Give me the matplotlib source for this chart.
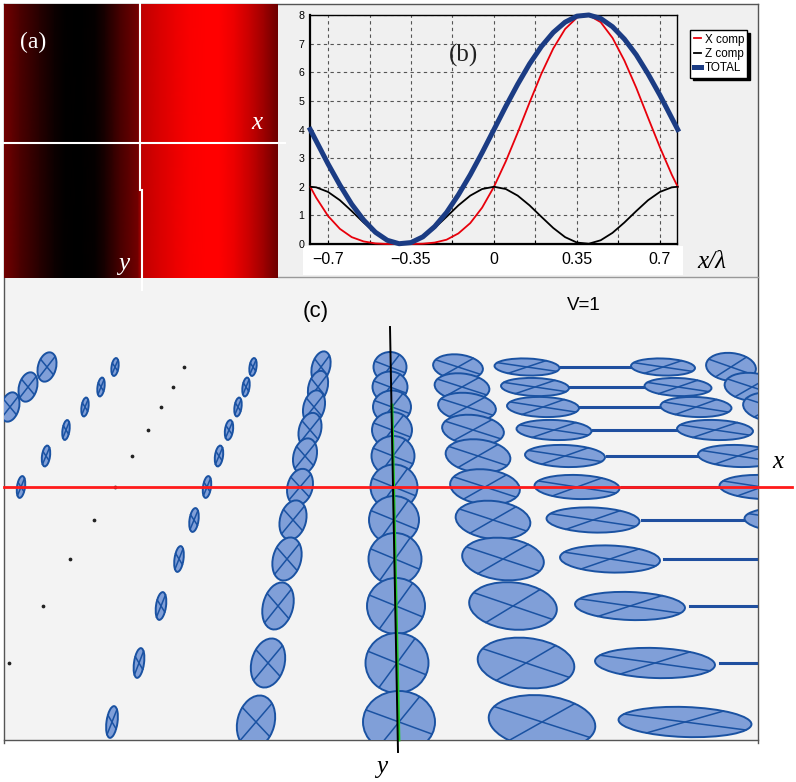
import numpy as np
import matplotlib
matplotlib.use("Agg")
import matplotlib.pyplot as plt
from matplotlib.patches import Ellipse, Rectangle
from matplotlib.colors import LinearSegmentedColormap

W, H = 796, 782

# ---- panel (a): red level across the intensity map (left -> right, fraction of width)
a_pos = [0.0, 0.058, 0.131, 0.186, 0.223, 0.277, 0.332, 0.369, 0.423, 0.489,
         0.504, 0.569, 0.624, 0.679, 0.734, 0.788, 0.843, 0.898, 0.953, 1.0]
a_level = [0.45, 0.30, 0.15, 0.05, 0.01, 0.0, 0.02, 0.10, 0.28, 0.45,
           0.75, 0.85, 0.92, 0.98, 1.0, 1.0, 0.92, 0.78, 0.60, 0.42]

# ---- panel (b): field components vs x/lambda
x_b = [-0.775, -0.75, -0.70, -0.65, -0.60, -0.55, -0.50, -0.45, -0.40, -0.35, -0.30,
       -0.25, -0.20, -0.15, -0.10, -0.05, 0.0, 0.05, 0.10, 0.15, 0.20, 0.25, 0.30,
       0.35, 0.40, 0.45, 0.50, 0.55, 0.60, 0.65, 0.70, 0.75, 0.775]
x_comp = [2.00, 1.62, 0.98, 0.53, 0.24, 0.09, 0.02, 0.00, 0.00, 0.00, 0.01,
          0.05, 0.15, 0.37, 0.73, 1.27, 2.00, 2.89, 3.89, 4.94, 5.95, 6.83, 7.51,
          7.91, 7.99, 7.75, 7.20, 6.41, 5.46, 4.41, 3.38, 2.42, 2.00]
z_comp = [2.00, 1.98, 1.82, 1.53, 1.15, 0.75, 0.39, 0.13, 0.01, 0.05, 0.24,
          0.56, 0.95, 1.35, 1.69, 1.92, 2.00, 1.92, 1.69, 1.35, 0.95, 0.56, 0.24,
          0.05, 0.01, 0.13, 0.39, 0.75, 1.15, 1.53, 1.82, 1.98, 2.00]
total = [4.00, 3.60, 2.80, 2.06, 1.39, 0.84, 0.41, 0.13, 0.01, 0.05, 0.25,
         0.61, 1.10, 1.72, 2.42, 3.19, 4.00, 4.81, 5.58, 6.29, 6.90, 7.39, 7.75,
         7.96, 8.00, 7.88, 7.59, 7.16, 6.61, 5.94, 5.20, 4.40, 4.00]
xtick_b = [-0.7, -0.525, -0.35, -0.175, 0.0, 0.175, 0.35, 0.525, 0.7]
xtick_lab = ["\u22120.7", "", "\u22120.35", "", "0", "", "0.35", "", "0.7"]

# ---- panel (c): polarization ellipses (screen units, origin at axis crossing)
rows_y = [120, 100, 80, 57, 31, 0, -33, -72, -119, -176, -235]

col_a_x = [-347, -366, -384]
col_a_w = [18, 18, 18]
col_a_h = [30, 30, 30]

col_b_x = [-279, -293, -309, -328, -348, -373]
col_b_w = [7, 7, 7, 7, 8, 8]
col_b_h = [18, 19, 19, 20, 21, 22]

dots_x = [-210, -221, -233, -246, -262, -279, -300, -324, -351, -385]

col_d_x = [-141, -148, -156, -165, -175, -187, -200, -215, -233, -255, -282]
col_d_w = [7, 7, 7, 8, 8, 8, 9, 9, 10, 10, 11]
col_d_h = [18, 19, 19, 20, 21, 22, 24, 26, 28, 30, 32]

col_e_x = [-73, -76, -80, -84, -89, -94, -101, -107, -116, -126, -138]
col_e_w = [18, 19, 21, 22, 23, 25, 26, 28, 30, 33, 37]
col_e_h = [32, 33, 34, 35, 36, 37, 40, 44, 48, 50, 54]

col_f_x = [-4, -4, -2, -2, -1, 0, 0, 1, 2, 3, 5]
col_f_w = [33, 35, 38, 40, 43, 47, 50, 53, 58, 63, 72]
col_f_h = [30, 31, 33, 36, 40, 45, 48, 52, 56, 60, 62]

col_g_x = [64, 68, 73, 79, 84, 91, 99, 109, 119, 132, 148]
col_g_w = [50, 55, 58, 62, 65, 70, 75, 82, 88, 97, 107]
col_g_h = [25, 27, 28, 30, 33, 35, 38, 42, 47, 50, 53]

col_h_x = [133, 141, 149, 160, 171, 183, 199, 216, 236, 261, 291]
col_h_w = [65, 68, 72, 75, 80, 85, 93, 100, 110, 120, 133]
col_h_h = [17, 18, 20, 20, 22, 24, 25, 27, 28, 30, 30]

lin_x = [202, 213, 226, 241, 258, 276, 299, 330, 361, 391]
lin_len = [70, 76, 80, 84, 91, 97, 103, 120, 130, 130]

col_i_x = [269, 284, 302, 321, 344, 368, 397]
col_i_w = [64, 67, 71, 76, 80, 85, 93]
col_i_h = [17, 18, 20, 20, 22, 24, 25]

col_j_x = [337, 358, 378]
col_j_w = [50, 55, 58]
col_j_h = [28, 28, 29]


def fx(px):
    return px / W


def fy(py):
    return 1 - py / H


fig = plt.figure(figsize=(W / 100, H / 100), dpi=100)
fig.patch.set_facecolor("white")

# background boxes / frame
bg = fig.add_axes([0, 0, 1, 1], zorder=-10)
bg.set_xlim(0, W)
bg.set_ylim(H, 0)
bg.axis("off")
bg.add_patch(Rectangle((278, 4), 480, 273, fc="#f0f0f0", ec="none"))
bg.add_patch(Rectangle((4, 277), 754, 463, fc="#f3f3f3", ec="none"))
bg.add_patch(Rectangle((303, 246), 380, 29, fc="white", ec="none"))
frame_c = "#555555"
bg.plot([4, 758], [4, 4], color=frame_c, lw=1)
bg.plot([4, 4], [4, 743], color=frame_c, lw=1)
bg.plot([758, 758], [4, 743], color=frame_c, lw=1)
bg.plot([4, 758], [740, 740], color=frame_c, lw=1)
bg.plot([278, 758], [277, 277], color="#999999", lw=1)

# ---------------- panel (a)
ax_a = fig.add_axes([fx(4), fy(278), 274 / W, 274 / H])
cmap_br = LinearSegmentedColormap.from_list("br", ["black", "red"])
C = np.array([a_level, a_level])
ax_a.pcolormesh(a_pos, [0, 1], C, cmap=cmap_br, vmin=0, vmax=1, shading="gouraud")
ax_a.set_xlim(0, 1)
ax_a.set_ylim(0, 1)
ax_a.axis("off")
ax_a.plot([0.496, 0.496], [1.0, 0.32], color="white", lw=1.5, clip_on=False)
ax_a.plot([0.503, 0.503], [0.32, -0.044], color="white", lw=1.5, clip_on=False)
ax_a.plot([0.0, 1.026], [0.493, 0.493], color="white", lw=1.5, clip_on=False)

serif = "Liberation Serif"
fig.text(fx(33), fy(42), "(a)", color="white", family=serif, fontsize=17, ha="center", va="center")
fig.text(fx(257), fy(123), "x", color="white", family=serif, style="italic", fontsize=18, ha="center", va="center")
fig.text(fx(124), fy(264), "y", color="white", family=serif, style="italic", fontsize=18, ha="center", va="center")

# ---------------- panel (b)
ax_b = fig.add_axes([fx(310), fy(244), 367 / W, 229 / H])
ax_b.set_facecolor("#f0f0f0")
ax_b.plot(x_b, x_comp, color="#e8000b", lw=1.3, label="X comp", clip_on=False, zorder=3)
ax_b.plot(x_b, z_comp, color="black", lw=1.3, label="Z comp", clip_on=False, zorder=3)
ax_b.plot(x_b, total, color="#1b3c84", lw=3.6, label="TOTAL", clip_on=False, zorder=4)
ax_b.set_xlim(-0.776, 0.772)
ax_b.set_ylim(0, 8)
ax_b.set_xticks(xtick_b)
ax_b.set_xticklabels(xtick_lab, family="Liberation Sans", fontsize=11.5)
ax_b.set_yticks(range(0, 9))
ax_b.set_yticklabels([str(v) for v in range(0, 9)], family="Liberation Sans", fontsize=7.7)
ax_b.tick_params(axis="x", direction="in", length=3, pad=6)
ax_b.tick_params(axis="y", length=0, pad=4)
ax_b.grid(True, color="#555555", lw=0.8, linestyle=(0, (3, 3)))
for sp in ax_b.spines.values():
    sp.set_color("black")
    sp.set_linewidth(1.0)
ax_b.spines["left"].set_linewidth(1.6)
ax_b.spines["bottom"].set_linewidth(1.6)

leg = ax_b.legend(loc="upper left", bbox_to_anchor=(fx(690), fy(30)), bbox_transform=fig.transFigure,
                  borderaxespad=0, fancybox=False, edgecolor="black", framealpha=1,
                  prop={"family": "Liberation Sans", "size": 8.4}, handlelength=0.6,
                  handletextpad=0.35, borderpad=0.3, labelspacing=0.2,
                  shadow={"color": "black", "alpha": 1})
leg.get_frame().set_linewidth(1.0)

fig.text(fx(463), fy(55), "(b)", family=serif, fontsize=18, ha="center", va="center", color="#222222")
fig.text(fx(712), fy(262), "x/\u03bb", family=serif, style="italic", fontsize=18, ha="center", va="center")

# ---------------- panel (c)
ax_c = fig.add_axes([fx(4), fy(740), 754 / W, 463 / H])
ax_c.set_xlim(-390, 364)
ax_c.set_ylim(-253, 210)
ax_c.set_facecolor("none")
ax_c.axis("off")

face = "#809fd8"
edge = "#1a52a2"


def draw_column(ax, xs, ws, hs, angle):
    for i in range(len(xs)):
        z = 2 + i * 0.02
        cx, cy = xs[i], rows_y[i]
        ax.add_patch(Ellipse((cx, cy), ws[i], hs[i], angle=angle, fc=face, ec=edge, lw=1.4, zorder=z))
        rot = np.deg2rad(angle)
        for t in (np.deg2rad(55), np.deg2rad(157)):
            px = ws[i] / 2 * np.cos(t)
            py = hs[i] / 2 * np.sin(t)
            dx = px * np.cos(rot) - py * np.sin(rot)
            dy = px * np.sin(rot) + py * np.cos(rot)
            ax.plot([cx - dx, cx + dx], [cy - dy, cy + dy], color=edge, lw=1.1, zorder=z + 0.01)


for i in range(len(lin_x)):
    ax_c.plot([lin_x[i] - lin_len[i] / 2, lin_x[i] + lin_len[i] / 2], [rows_y[i], rows_y[i]],
              color="#1f4f9f", lw=2.2, zorder=1.5)

ax_c.plot(dots_x, rows_y[:len(dots_x)], "o", ms=1.7, color="#222222", zorder=2)

draw_column(ax_c, col_a_x, col_a_w, col_a_h, -15)
draw_column(ax_c, col_b_x, col_b_w, col_b_h, -8)
draw_column(ax_c, col_d_x, col_d_w, col_d_h, -8)
draw_column(ax_c, col_e_x, col_e_w, col_e_h, -15)
draw_column(ax_c, col_f_x, col_f_w, col_f_h, 0)
draw_column(ax_c, col_g_x, col_g_w, col_g_h, -6)
draw_column(ax_c, col_h_x, col_h_w, col_h_h, -2)
draw_column(ax_c, col_i_x, col_i_w, col_i_h, -2)
draw_column(ax_c, col_j_x, col_j_w, col_j_h, -6)

# axes of the ellipse map
ax_c.plot([-2, 5], [82, -253], color="#22cc22", lw=2.0, zorder=5, clip_on=False)
ax_c.plot([-4, 4], [160, -265], color="black", lw=1.4, zorder=6, clip_on=False)
ax_c.plot([-390, 398], [0, 0], color="#ff1a1a", lw=2.0, zorder=6, clip_on=False)

fig.text(fx(316), fy(312), "(c)", family="Liberation Sans", fontsize=16, ha="center", va="center")
fig.text(fx(584), fy(305), "V=1", family="Liberation Sans", fontsize=13.5, ha="center", va="center")
fig.text(fx(778), fy(462), "x", family=serif, style="italic", fontsize=18, ha="center", va="center")
fig.text(fx(382), fy(767), "y", family=serif, style="italic", fontsize=18, ha="center", va="center")

fig.savefig("out.png", dpi=100)
